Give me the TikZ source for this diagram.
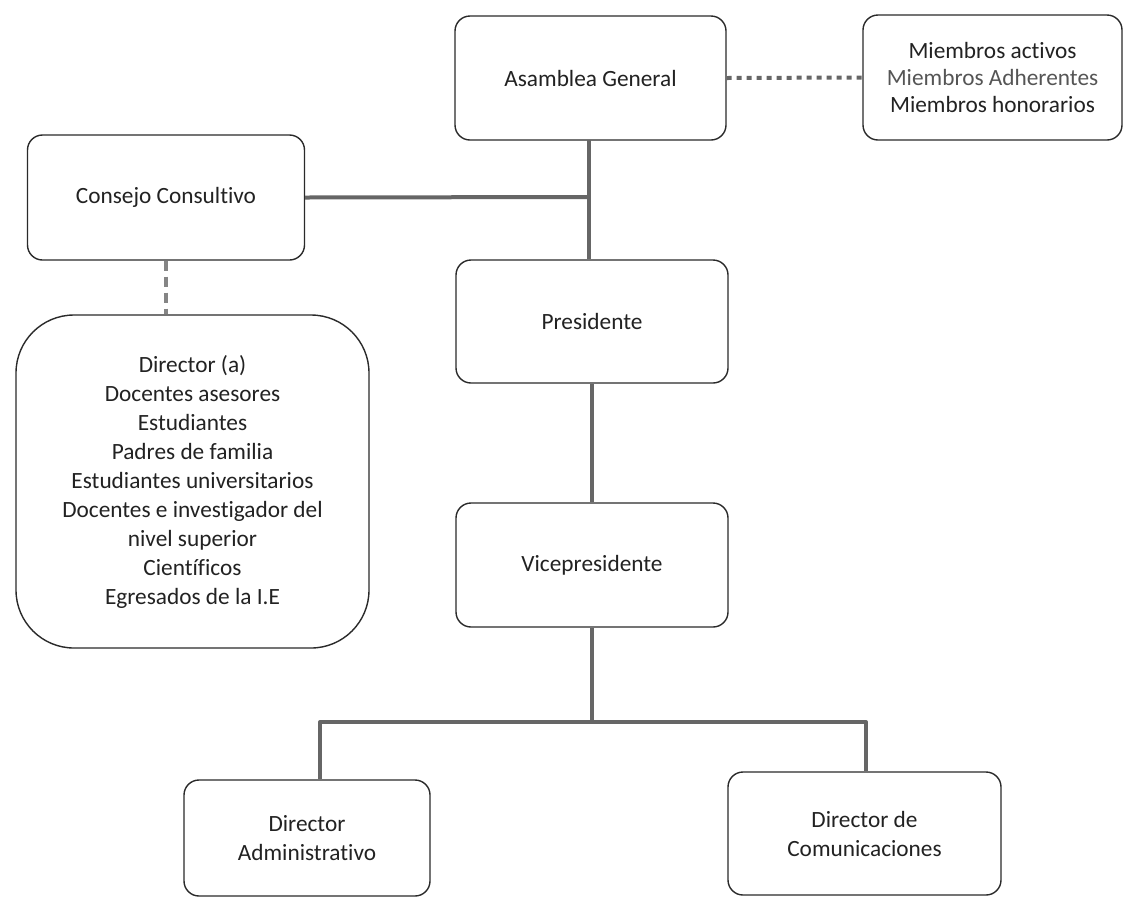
\documentclass[tikz,border=0pt]{standalone}
\usepackage{fontspec}
\setmainfont[Ligatures=NoCommon]{Carlito}
\definecolor{txt}{HTML}{222222}
\definecolor{txtl}{HTML}{555555}
\definecolor{conn}{HTML}{666666}
\definecolor{bord}{HTML}{2A2A2A}
\begin{document}
\begin{tikzpicture}[x=1pt,y=-1pt,
  box/.style={draw=bord, line width=1.4pt, rounded corners=15pt, rectangle,
    align=center, text=txt, inner sep=0pt,
    font=\fontsize{23.3}{29}\selectfont},
  bigbox/.style={box, rounded corners=58pt},
  conline/.style={draw=conn, line width=4pt},
  dotline/.style={draw=conn, line width=4pt, dash pattern=on 5pt off 5pt},
  dashline/.style={draw=conn!80, line width=4pt, dash pattern=on 10pt off 6pt}]
\useasboundingbox (0,0) rectangle (1124,898);
\fill[white] (0,0) rectangle (1124,898);

\node[box, minimum width=271pt, minimum height=124pt] (ag) at (590.5,78) {Asamblea General};
\node[box, minimum width=259pt, minimum height=125pt,
  font=\fontsize{23.3}{27}\selectfont] (mie) at (992.5,77.5)
  {Miembros activos\\\textcolor{txtl}{Miembros Adherentes}\\Miembros honorarios};
\node[box, minimum width=277pt, minimum height=125pt] (cc) at (166,197.5) {Consejo Consultivo};
\node[box, minimum width=272pt, minimum height=123pt] (pres) at (592,321.5) {Presidente};
\node[box, minimum width=272pt, minimum height=124pt] (vice) at (592,565) {Vicepresidente};
\node[bigbox, minimum width=353pt, minimum height=333pt] (cons) at (192.5,481.5)
  {Director (a)\\Docentes asesores\\Estudiantes\\Padres de familia\\Estudiantes universitarios\\Docentes e investigador del\\nivel superior\\Científicos\\Egresados de la I.E};
\node[box, minimum width=246pt, minimum height=116pt] (da) at (307,838) {Director\\Administrativo};
\node[box, minimum width=273pt, minimum height=123pt] (dc) at (864.5,833.5) {Director de\\Comunicaciones};

\coordinate (jn) at (589,197);
\coordinate (hb) at (592,722);

\draw[dotline] (ag.east) -- (mie.west);
\draw[conline] (589,140) coordinate (agb) -- (jn) -- (agb |- pres.north);
\draw[conline] (cc.east) -- (jn);
\draw[dashline] (cc.south) -- (cc.south |- cons.north);
\draw[conline] (pres.south) -- (vice.north);
\draw[conline] (vice.south) -- (hb);
\draw[conline, line join=round] (hb) -| ([xshift=13pt]da.north);
\draw[conline, line join=round] (hb) -| ([xshift=1.5pt]dc.north);
\end{tikzpicture}
\end{document}
